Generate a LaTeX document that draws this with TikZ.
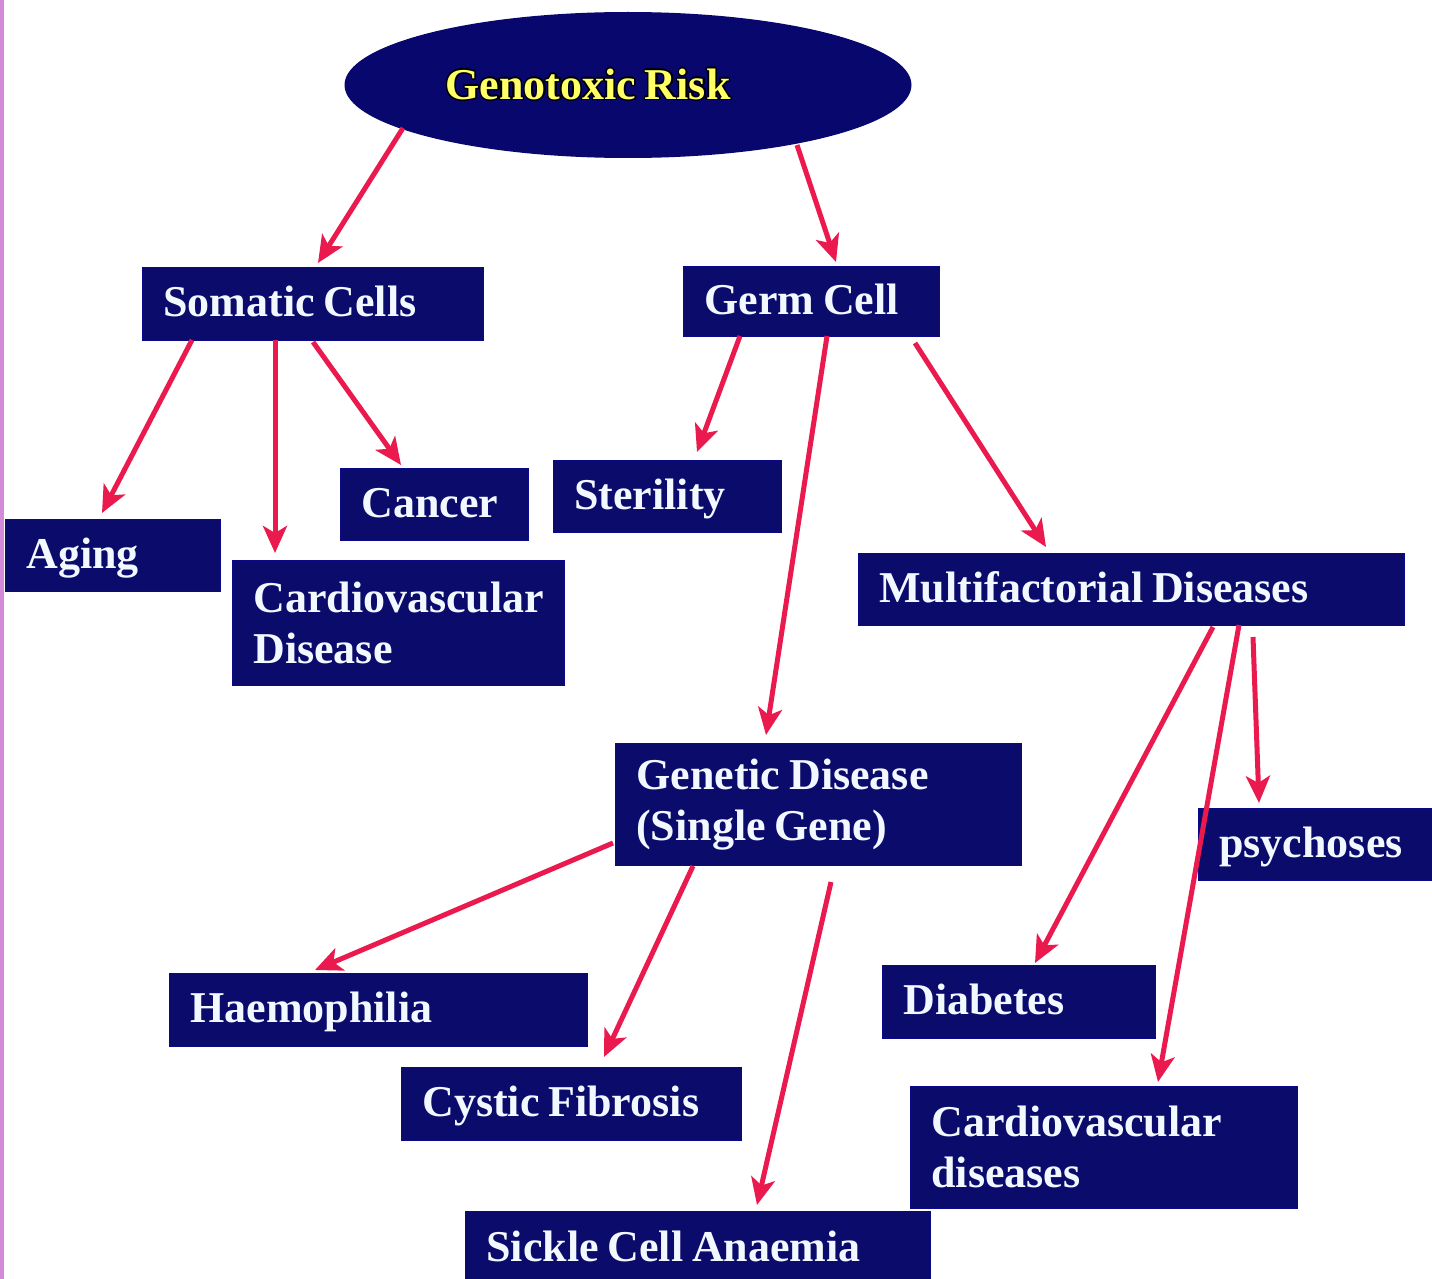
\documentclass[tikz,border=0pt]{standalone}
\usepackage{fontspec}
\setmainfont[WordSpace=0.8]{Liberation Serif}
\usepackage{contour}
\contourlength{1.4pt}
\usetikzlibrary{arrows.meta,shapes.geometric,calc}
\definecolor{navybox}{HTML}{0B0B6C}
\definecolor{navyell}{HTML}{07076E}
\definecolor{arrowred}{HTML}{EA1A4E}
\definecolor{boxtext}{HTML}{F2F8FF}
\definecolor{titleyellow}{HTML}{FFFF66}
\definecolor{edgepink}{HTML}{D48AD8}
\newcommand\bxfont{\fontsize{44}{51}\selectfont\bfseries}
\tikzset{
  box/.style={rectangle, fill=navybox, draw=navybox!80!blue, line width=0.6pt,
    inner xsep=21pt, inner ysep=0pt, anchor=north west, text=boxtext,
    font=\bxfont, align=flush left},
  oneline/.style={text height=30pt, text depth=4pt},
  arr/.style={draw=arrowred, line width=5pt,
    -{Stealth[length=27pt, width=24pt, inset=7pt]}}
}
\begin{document}
\begin{tikzpicture}[x=1pt,y=-1pt]
\useasboundingbox (0,0) rectangle (1432,1279);
\fill[white] (0,0) rectangle (1432,1279);
\draw[edgepink, line width=4pt] (2,0) -- (2,1279);

% title
\node[ellipse, fill=navyell, inner sep=0pt, minimum width=567pt, minimum height=146pt,
  font=\fontsize{44}{51}\selectfont\bfseries] (gen) at (628,85)
  {{\color{titleyellow}\contour{black}{Genotoxic Risk}}\hspace*{80pt}};

% boxes
\node[box, oneline, text width=299pt, minimum height=73pt]  (som)    at (142,267)  {Somatic Cells};
\node[box, oneline, text width=214pt, minimum height=70pt]  (germ)   at (683,266)  {Germ Cell};
\node[box, oneline, text width=173pt, minimum height=72pt]  (aging)  at (5,519)    {Aging};
\node[box, oneline, text width=146pt, minimum height=72pt]  (cancer) at (340,468)  {Cancer};
\node[box, oneline, text width=186pt, minimum height=72pt]  (steril) at (553,460)  {Sterility};
\node[box, text width=290pt, minimum height=125pt] (cardio) at (232,560)  {Cardiovascular\\Disease};
\node[box, oneline, text width=504pt, minimum height=72pt]  (multi)  at (858,553)  {Multifactorial Diseases};
\node[box, text width=364pt, minimum height=122pt] (genet)  at (615,743)  {Genetic Disease\\(Single Gene)};
\node[box, oneline, text width=194pt, minimum height=72pt]  (psych)  at (1198,808) {psychoses};
\node[box, oneline, text width=376pt, minimum height=73pt]  (haemo)  at (169,973)  {Haemophilia};
\node[box, oneline, text width=231pt, minimum height=73pt]  (diab)   at (882,965)  {Diabetes};
\node[box, oneline, text width=298pt, minimum height=73pt]  (cystic) at (401,1067) {Cystic Fibrosis};
\node[box, text width=345pt, minimum height=122pt] (cvd)    at (910,1086) {Cardiovascular\\diseases};
\node[box, oneline, text width=423pt, minimum height=74pt]  (sickle) at (465,1211) {Sickle Cell Anaemia};

% arrows
\draw[arr] ($(gen.center)+(-225,43)$) -- ($(som.north west)+(176,-4)$);
\draw[arr] ($(gen.center)+(169,60)$)  -- ($(germ.north west)+(153,-4)$);
\draw[arr] ($(som.north west)+(50,73)$)  -- ($(aging.north west)+(97,-6)$);
\draw[arr] ($(som.north west)+(133,73)$) -- ($(cardio.north west)+(43,-7)$);
\draw[arr] ($(som.north west)+(171,75)$) -- ($(cancer.north west)+(61,-3)$);
\draw[arr] ($(germ.north west)+(57,70)$)  -- ($(steril.north west)+(144,-8)$);
\draw[arr] ($(germ.north west)+(144,70)$) -- ($(genet.north west)+(151,-8)$);
\draw[arr] ($(germ.north west)+(232,77)$) -- ($(multi.north west)+(188,-6)$);
\draw[arr] ($(multi.north west)+(355,74)$) -- ($(diab.north west)+(153,-2)$);
\draw[arr] ($(multi.north west)+(381,72)$) -- ($(cvd.north west)+(248,-4)$);
\draw[arr] ($(multi.north west)+(395,84)$) -- ($(psych.north west)+(61,-5)$);
\draw[arr] ($(genet.north west)+(-2,100)$) -- ($(haemo.north west)+(146,-3)$);
\draw[arr] ($(genet.north west)+(78,123)$) -- ($(cystic.north west)+(203,-10)$);
\draw[arr] ($(genet.north west)+(216,139)$) -- ($(sickle.north west)+(292,-6)$);
\end{tikzpicture}
\end{document}
